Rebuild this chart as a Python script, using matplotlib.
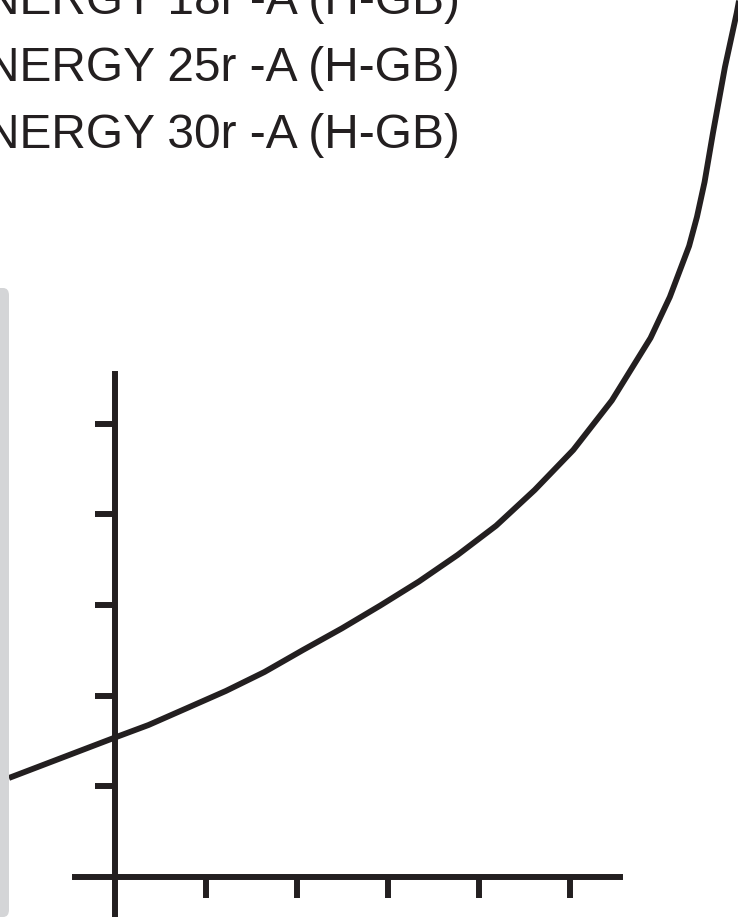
import matplotlib
matplotlib.use("Agg")
import matplotlib.pyplot as plt
from matplotlib.patches import FancyBboxPatch

# ---- data ----
legend_lines = ["NERGY 18r -A (H-GB)", "NERGY 25r -A (H-GB)", "NERGY 30r -A (H-GB)"]
x_ticks = [1, 2, 3, 4, 5]
y_ticks = [1, 2, 3, 4, 5]
curve_x = [-1.165, 0.0, 0.369, 0.793, 1.218, 1.642, 2.066, 2.491, 2.915, 3.340,
           3.764, 4.188, 4.612, 5.036, 5.460, 5.885, 6.097, 6.309, 6.395, 6.479,
           6.571, 6.703, 6.832, 6.879]
curve_y = [1.092, 1.538, 1.676, 1.863, 2.051, 2.260, 2.503, 2.740, 2.993, 3.258,
           3.550, 3.873, 4.267, 4.708, 5.254, 5.943, 6.395, 6.957, 7.277, 7.663,
           8.203, 8.931, 9.526, 9.780]

INK = "#231f20"
W, H = 738, 917
x0px, y0px = 115, 877
ux, uy = 91.0, 90.7

fig = plt.figure(figsize=(W / 100, H / 100), dpi=100)
ax = fig.add_axes([0, 0, 1, 1])
ax.set_xlim(-x0px / ux, (W - x0px) / ux)
ax.set_ylim(-(H - y0px) / uy, y0px / uy)
ax.set_facecolor("white")

for s in ("top", "right"):
    ax.spines[s].set_visible(False)
for s in ("left", "bottom"):
    ax.spines[s].set_position(("data", 0))
    ax.spines[s].set_linewidth(4.3)
    ax.spines[s].set_color(INK)
ax.spines["left"].set_bounds(-(H - y0px) / uy - 0.2, (y0px - 374) / uy)
ax.spines["bottom"].set_bounds((75 - x0px) / ux, (620 - x0px) / ux)

ax.set_xticks(x_ticks)
ax.set_yticks(y_ticks)
ax.tick_params(axis="y", direction="out", length=14.4, width=4.3, color=INK,
               labelleft=False)
ax.tick_params(axis="x", direction="out", length=15.1, width=4.3, color=INK,
               labelbottom=False)

ax.plot(curve_x, curve_y, color=INK, lw=4.2, solid_capstyle="butt",
        solid_joinstyle="round", zorder=3, clip_on=False)

# grey side panel
panel = FancyBboxPatch((-20 / W, 0), 29 / W, (H - 288) / H,
                       boxstyle="round,pad=0,rounding_size=0.008",
                       transform=fig.transFigure, facecolor="#d4d5d7",
                       edgecolor="none", zorder=5)
fig.patches.append(panel)

for i, t in enumerate(legend_lines):
    base = 14 + 67 * i
    fig.text(460 / W, 1 - base / H, t, ha="right", va="baseline",
             fontsize=34.5, family=["Liberation Sans", "DejaVu Sans"], color=INK)

fig.savefig("out.png", dpi=100)
